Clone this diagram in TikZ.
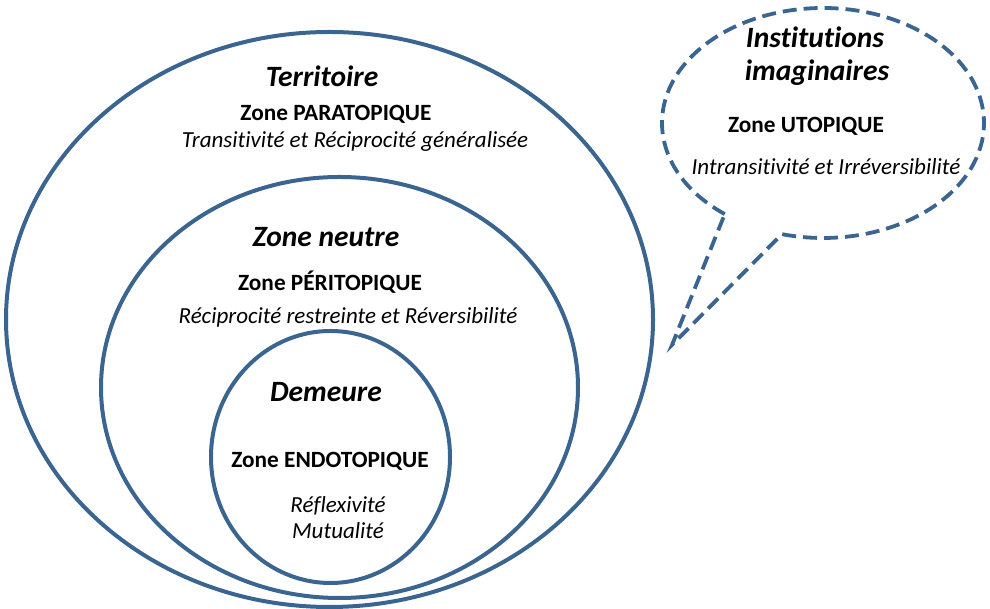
\documentclass[tikz,border=0pt]{standalone}
\usepackage{fontspec}
\setmainfont{Carlito}[Ligatures=CommonOff]
\usepackage{xcolor}
\usepackage{tikz}
\definecolor{zoneblue}{HTML}{3A6591}

\begin{document}
\begin{tikzpicture}[x=1pt,y=1pt,
  ring/.style={draw=zoneblue,line width=4pt},
  bubble/.style={draw=zoneblue,line width=3.8pt,dash pattern=on 14pt off 7pt},
  lieu/.style={anchor=base,font=\fontsize{29.5}{34}\selectfont\bfseries\itshape},
  zone/.style={anchor=base,font=\fontsize{23.3}{27}\selectfont\bfseries},
  regle/.style={anchor=base,font=\fontsize{23}{27}\selectfont\itshape}]
\useasboundingbox (0,0) rectangle (990,609);
\draw[ring] (329.5,289.5) ellipse [x radius=323.5,y radius=287.5];
\draw[ring] (339.5,221.5) ellipse [x radius=238.5,y radius=210.5];
\draw[ring] (330.5,152) ellipse [x radius=119.5,y radius=126];
\coordinate (bulle) at (823,486);
\coordinate (pointe) at (672,264);
\draw[bubble] (bulle) ++(232.4:161 and 115) arc[start angle=232.4,end angle=-104.8,x radius=161,y radius=115] -- (pointe) -- cycle;
\node[lieu] (territoire) at (322,522) {Territoire};
\node[zone] (para) at (336,488) {Zone PARATOPIQUE};
\node[regle] (para-r) at (355,461) {Transitivité et Réciprocité généralisée};
\node[lieu] (neutre) at (326,362) {Zone neutre};
\node[zone] (peri) at (330,318) {Zone PÉRITOPIQUE};
\node[regle] (peri-r) at (348,285) {Réciprocité restreinte et Réversibilité};
\node[lieu] (demeure) at (326,207) {Demeure};
\node[zone] (endo) at (330,141) {Zone ENDOTOPIQUE};
\node[regle] (endo-r1) at (338,96) {Réflexivité};
\node[regle] (endo-r2) at (338,70) {Mutualité};
\node[lieu] (instit) at (815,561) {Institutions};
\node[lieu] (imag) at (817,528) {imaginaires};
\node[zone] (uto) at (806,476) {Zone UTOPIQUE};
\node[regle] (uto-r) at (826,434) {Intransitivité et Irréversibilité};
\end{tikzpicture}
\end{document}
